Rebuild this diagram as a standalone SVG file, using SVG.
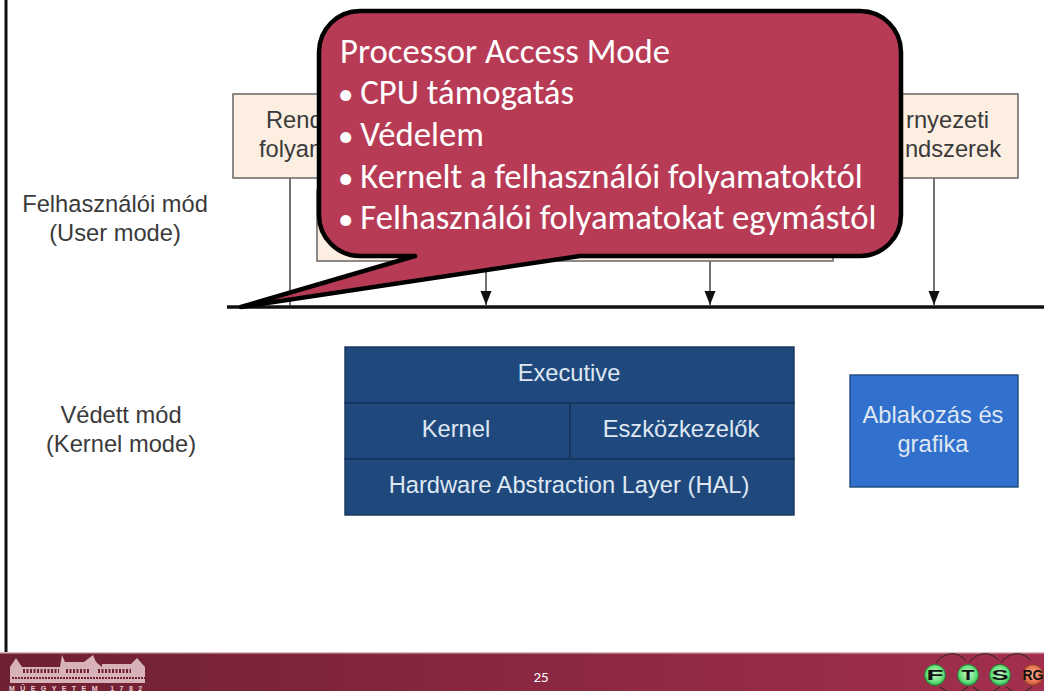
<svg xmlns="http://www.w3.org/2000/svg" width="1044" height="691" viewBox="0 0 1044 691">
<defs>
<style>
.lbl{font-family:"Liberation Sans",Arial,sans-serif;font-size:23.7px;fill:#3a3a3a}
.wht{font-family:"Liberation Sans",Arial,sans-serif;font-size:23.7px;fill:#dfe7f2;text-anchor:middle}
.box{fill:#fdeee2;stroke:#6e6e6e;stroke-width:1.6}
.dk{fill:#1f497d;stroke:#16345a;stroke-width:1.4}
.wire{stroke:#444;stroke-width:1.5;fill:none}
.co{font-family:Carlito,"Open Sans","Noto Sans",sans-serif;font-size:34.7px;fill:#fff}
.ftxt{font-family:"Liberation Sans",Arial,sans-serif;font-weight:700;font-size:14px;fill:#111;text-anchor:middle}
.arc{fill:none;stroke:#222;stroke-width:1}
</style>
<marker id="tri" markerUnits="userSpaceOnUse" markerWidth="16" markerHeight="12" refX="14" refY="6" orient="auto" viewBox="0 0 16 12"><path d="M0 0.5 L14 6 L0 11.5Z" fill="#111"/></marker>
<radialGradient id="g" cx="50%" cy="45%" r="55%"><stop offset="0" stop-color="#d0f8d0"/><stop offset="0.7" stop-color="#66e07a"/><stop offset="1" stop-color="#2fae4a"/></radialGradient>
<radialGradient id="r" cx="50%" cy="45%" r="55%"><stop offset="0" stop-color="#f5b39a"/><stop offset="0.7" stop-color="#e8704f"/><stop offset="1" stop-color="#b84a32"/></radialGradient>
<linearGradient id="foot" x1="0" x2="1" y1="0" y2="0"><stop offset="0" stop-color="#6f2033"/><stop offset="1" stop-color="#a32f4d"/></linearGradient>
</defs>
<rect width="1044" height="691" fill="#fff"/>
<line x1="6" y1="0" x2="6" y2="655" stroke="#111" stroke-width="3"/>

<g id="connectors">
<line x1="227" y1="307" x2="1044" y2="307" stroke="#111" stroke-width="3.4"/>
<line class="wire" x1="290" y1="178" x2="290" y2="306"/>
<line class="wire" x1="486" y1="261" x2="486" y2="305" marker-end="url(#tri)"/>
<line class="wire" x1="710" y1="261" x2="710" y2="305" marker-end="url(#tri)"/>
<line class="wire" x1="934" y1="178" x2="934" y2="305" marker-end="url(#tri)"/>
</g>

<g id="label-user"><text class="lbl" x="115" y="212" text-anchor="middle">Felhasználói mód</text><text class="lbl" x="115" y="241" text-anchor="middle">(User mode)</text></g>
<g id="label-kernel"><text class="lbl" x="121" y="423" text-anchor="middle">Védett mód</text><text class="lbl" x="121" y="452" text-anchor="middle">(Kernel mode)</text></g>

<g id="node-rendszer"><rect class="box" x="233" y="94" width="120" height="84"/><text class="lbl" x="266" y="128">Rend</text><text class="lbl" x="259" y="157">folyam</text></g>
<g id="node-middle"><rect class="box" x="317" y="190" width="516" height="71"/></g>
<g id="node-kornyezeti"><rect class="box" x="860" y="94" width="158" height="84"/><text class="lbl" x="989" y="128" text-anchor="end">rnyezeti</text><text class="lbl" x="1001" y="157" text-anchor="end">ndszerek</text></g>

<g id="node-executive"><rect class="dk" x="345" y="347" width="449" height="56"/><text class="wht" x="569" y="381">Executive</text></g>
<g id="node-kernel"><rect class="dk" x="345" y="403" width="225" height="56"/><text class="wht" x="456" y="437">Kernel</text></g>
<g id="node-eszkoz"><rect class="dk" x="570" y="403" width="224" height="56"/><text class="wht" x="681" y="437">Eszközkezelők</text></g>
<g id="node-hal"><rect class="dk" x="345" y="459" width="449" height="56"/><text class="wht" x="569" y="493">Hardware Abstraction Layer (HAL)</text></g>
<g id="node-ablak"><rect x="850" y="375" width="168" height="112" fill="#3170cc" stroke="#1f497d" stroke-width="1.4"/><text class="wht" x="933" y="423">Ablakozás és</text><text class="wht" x="933" y="452">grafika</text></g>

<g id="node-callout">
<path d="M360 11 H860 A41 41 0 0 1 901 52 V215 A41 41 0 0 1 860 256 H580 L241 307 L415 256 H360 A41 41 0 0 1 319 215 V52 A41 41 0 0 1 360 11Z" fill="#b83b56" stroke="#000" stroke-width="4.5" stroke-linejoin="round"/>
<text class="co" x="340" y="62.5">Processor Access Mode</text>
<text class="co" y="104"><tspan x="338" font-size="31">•</tspan><tspan x="352.5"> CPU támogatás</tspan></text>
<text class="co" y="146"><tspan x="338" font-size="31">•</tspan><tspan x="352.5"> Védelem</tspan></text>
<text class="co" y="187.5"><tspan x="338" font-size="31">•</tspan><tspan x="352.5"> Kernelt a felhasználói folyamatoktól</tspan></text>
<text class="co" y="229"><tspan x="338" font-size="31">•</tspan><tspan x="352.5"> Felhasználói folyamatokat egymástól</tspan></text>
</g>

<g id="footer">
<rect x="0" y="653" width="1044" height="38" fill="url(#foot)"/>
<rect x="0" y="652" width="1044" height="1.5" fill="#d9b8c0"/>
<text x="541" y="682" font-family="Carlito,'Open Sans',sans-serif" font-size="15" fill="#fff" text-anchor="middle">25</text>
<g id="logo-bme" fill="#e9cdd0">
<path d="M10 683 V667 L16 658 L22 667 H60 L62 655 L65 662 H84 L93 655 L96 662 L102 667 V664 H131 L137 658 L145 667 V683Z" opacity=".85"/>
<path d="M23 671 H59 M66 671 H90 M98 671 H131" stroke="#6f2033" stroke-width="4" stroke-dasharray="2 1.5" fill="none"/>
<path d="M12 678 H145" stroke="#6f2033" stroke-width="2" stroke-dasharray="2 1" fill="none"/>
<text x="9" y="691" font-family="Liberation Sans,sans-serif" font-size="7" font-weight="700" letter-spacing="4.9" textLength="138">MŰEGYETEM 1782</text>
</g>
<g id="logo-fts">
<path class="arc" d="M936 663 C945 651 958 651 966 661 M969 663 C978 651 991 651 999 661 M1001 663 C1010 651 1023 651 1031 661 M940 687 L946 691 M962 691 L968 687 M973 687 L979 691 M994 691 L1000 687 M1006 687 L1012 691 M1026 691 L1032 687"/>
<circle cx="935" cy="675" r="10.5" fill="url(#g)" stroke="#2a7a3a"/><text class="ftxt" x="935" y="680" textLength="17" lengthAdjust="spacingAndGlyphs">F</text>
<circle cx="968" cy="675" r="10.5" fill="url(#g)" stroke="#2a7a3a"/><text class="ftxt" x="968" y="680" textLength="13" lengthAdjust="spacingAndGlyphs">T</text>
<circle cx="1000" cy="675" r="10.5" fill="url(#g)" stroke="#2a7a3a"/><text class="ftxt" x="1000" y="680" textLength="17" lengthAdjust="spacingAndGlyphs">S</text>
<circle cx="1033" cy="675" r="10.5" fill="url(#r)" stroke="#8a3a2a"/><text class="ftxt" x="1033" y="680" font-size="12">RG</text>
</g>
</g>
</svg>
